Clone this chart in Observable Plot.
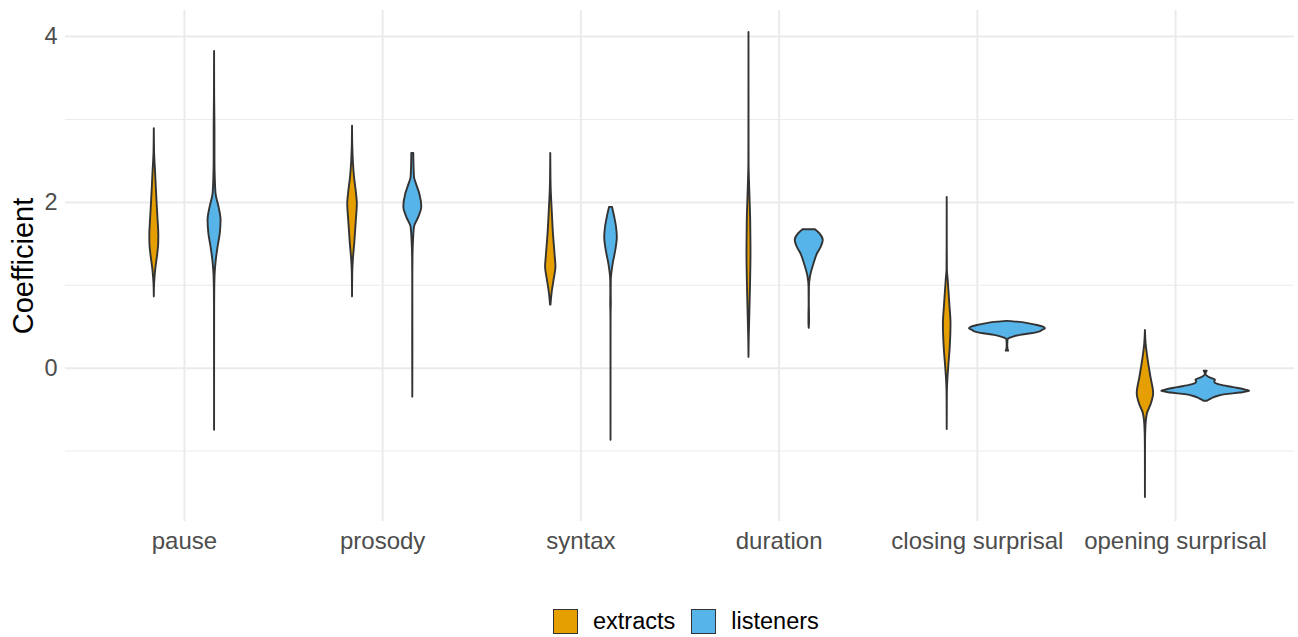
<!DOCTYPE html>
<html>
<head>
<meta charset="utf-8">
<script src="https://cdn.jsdelivr.net/npm/d3@7"></script>
<script src="https://cdn.jsdelivr.net/npm/@observablehq/plot@0.6"></script>
<style>
  body { margin: 0; background: #fff; font-family: "Liberation Sans", Arial, Helvetica, sans-serif; }
  #chart { position: relative; width: 1298px; height: 637px; }
  #chart svg { display: block; }
  #legend { position: absolute; top: 608px; left: 553px; display: flex; align-items: center; font-size: 23.5px; color: #000; }
  #legend .sw { display: inline-block; width: 23px; height: 23px; border: 1.5px solid #333; margin-right: 15px; }
  #legend .item { display: flex; align-items: center; line-height: 26px; }
  #legend .item + .item { margin-left: 16px; }
</style>
</head>
<body>
<div id="chart"></div>
<script>
const categories = ["pause", "prosody", "syntax", "duration", "closing surprisal", "opening surprisal"];
const groups = ["extracts", "listeners"];
const groupColors = ["#E69F00", "#56B4E9"];
const yMajorTicks = [0, 2, 4];
const yMinorTicks = [-1, 1, 3];

// violin profiles: [coefficient, relative density (half-width)]
const pauseExtracts = [[2.89,0],[2.6,0.3],[2.38,1.2],[2.18,2],[1.98,2.85],[1.78,3.8],[1.6,4.5],[1.5,4.4],[1.38,3.5],[1.18,1.35],[1.02,0.3],[0.86,0]];
const pauseListeners = [[3.82,0],[3.3,0.1],[2.9,0.4],[2.5,0.4],[2.3,0.7],[2.1,1.5],[1.94,4.5],[1.78,6.5],[1.62,5.7],[1.46,3.5],[1.3,1.7],[1.14,0.6],[0.95,0.2],[0.78,0.1],[0.3,0.05],[-0.75,0]];
const prosodyExtracts = [[2.92,0],[2.7,0.2],[2.5,0.8],[2.3,2],[2.1,4],[1.98,4.8],[1.78,3.8],[1.5,2.2],[1.3,0.8],[1.14,0.2],[0.86,0]];
const prosodyListeners = [[2.59,1],[2.45,1.2],[2.3,1.7],[2.22,3.7],[2.1,7],[1.94,9],[1.82,6],[1.7,1.7],[1.5,0.6],[1.34,0.2],[1.0,0.05],[0.3,0.1],[-0.35,0]];
const syntaxExtracts = [[2.59,0],[2.3,0.2],[2.14,0.5],[1.94,1.3],[1.62,2.7],[1.34,4.5],[1.22,5.2],[1.06,3.3],[0.9,1.3],[0.76,0.2]];
const syntaxListeners = [[1.94,1.5],[1.82,3.7],[1.7,5.5],[1.58,6.3],[1.42,4.8],[1.26,2.2],[1.06,0.3],[0.9,0.2],[0.78,0.3],[0.65,0.1],[0.5,0.05],[-0.87,0]];
const durationExtracts = [[4.05,0],[3.0,0.05],[2.47,0.1],[2.18,0.7],[1.78,1.7],[1.38,2.0],[0.98,1.5],[0.58,0.7],[0.33,0.2],[0.13,0]];
const durationListeners = [[1.67,6.2],[1.62,10.7],[1.54,14],[1.46,12],[1.38,8.3],[1.26,4.8],[1.10,1.2],[0.98,0.2],[0.78,0.1],[0.62,0.3],[0.55,0.3],[0.48,0]];
const closingExtracts = [[2.06,0],[1.5,0.05],[1.18,0.2],[1.06,1],[0.74,2.8],[0.54,3.8],[0.25,3],[0.01,1.5],[-0.23,0.3],[-0.39,0.1],[-0.74,0]];
const closingListeners = [[0.565,0],[0.555,10],[0.535,22],[0.515,30],[0.495,36],[0.475,38],[0.455,35],[0.435,32],[0.415,24],[0.395,13],[0.375,6],[0.355,1.5],[0.335,0.5],[0.27,0.3],[0.23,0.5],[0.205,1.2]];
const openingExtracts = [[0.455,0],[0.29,0.7],[0.09,2.8],[-0.11,5.5],[-0.31,8.2],[-0.43,6],[-0.55,2],[-0.71,0.5],[-0.91,0.1],[-1.11,0.05],[-1.56,0]];
const openingListeners = [[-0.036,1.5],[-0.06,0.5],[-0.075,0.3],[-0.1,2],[-0.12,5],[-0.145,9.8],[-0.165,9],[-0.185,10],[-0.205,15],[-0.235,28],[-0.265,40],[-0.28,44],[-0.30,35],[-0.32,20],[-0.345,11],[-0.37,6],[-0.39,3],[-0.40,1.5]];

const violins = [
  {category: "pause", group: "extracts", profile: pauseExtracts},
  {category: "pause", group: "listeners", profile: pauseListeners},
  {category: "prosody", group: "extracts", profile: prosodyExtracts},
  {category: "prosody", group: "listeners", profile: prosodyListeners},
  {category: "syntax", group: "extracts", profile: syntaxExtracts},
  {category: "syntax", group: "listeners", profile: syntaxListeners},
  {category: "duration", group: "extracts", profile: durationExtracts},
  {category: "duration", group: "listeners", profile: durationListeners},
  {category: "closing surprisal", group: "extracts", profile: closingExtracts},
  {category: "closing surprisal", group: "listeners", profile: closingListeners},
  {category: "opening surprisal", group: "extracts", profile: openingExtracts},
  {category: "opening surprisal", group: "listeners", profile: openingListeners}
];

const rows = violins.flatMap(v => v.profile.map(([y, w]) => ({category: v.category, group: v.group, y, w})));
const maxW = d3.max(rows, d => d.w);
const halfMax = 0.222;
const dodge = 0.152;
const cx = d => categories.indexOf(d.category) + (d.group === groups[0] ? -dodge : dodge);

const font = "Liberation Sans, Arial, Helvetica, sans-serif";

const plot = Plot.plot({
  width: 1298,
  height: 580,
  marginLeft: 65,
  marginRight: 4,
  marginTop: 10,
  marginBottom: 59,
  style: {fontFamily: font, background: "#fff"},
  x: {domain: [-0.6, categories.length - 0.4]},
  y: {domain: [-1.85, 4.315]},
  color: {domain: groups, range: groupColors},
  marks: [
    Plot.gridY(yMinorTicks, {stroke: "#ebebeb", strokeOpacity: 1, strokeWidth: 1.1}),
    Plot.gridY(yMajorTicks, {stroke: "#ebebeb", strokeOpacity: 1, strokeWidth: 2}),
    Plot.gridX(d3.range(categories.length), {stroke: "#ebebeb", strokeOpacity: 1, strokeWidth: 2}),
    Plot.areaX(rows, {
      y: "y",
      x1: d => cx(d) - d.w / maxW * halfMax,
      x2: d => cx(d) + d.w / maxW * halfMax,
      z: d => d.category + "|" + d.group,
      fill: "group",
      stroke: "#333333",
      strokeWidth: 1.9,
      curve: "monotone-y"
    }),
    Plot.axisY(yMajorTicks, {tickSize: 0, tickPadding: 8, fontSize: 23.5, fill: "#4d4d4d", tickFormat: d3.format("d"), label: null}),
    Plot.axisX(d3.range(categories.length), {tickSize: 0, tickPadding: 10, fontSize: 24, fill: "#4d4d4d", tickFormat: i => categories[i], label: null}),
    Plot.text(["Coefficient"], {frameAnchor: "left", textAnchor: "middle", dx: -53, rotate: -90, lineAnchor: "top", fontSize: 29, fill: "#000"})
  ]
});

const chart = document.getElementById("chart");
chart.appendChild(plot);

const legend = document.createElement("div");
legend.id = "legend";
groups.forEach((g, i) => {
  const item = document.createElement("div");
  item.className = "item";
  const sw = document.createElement("span");
  sw.className = "sw";
  sw.style.background = groupColors[i];
  const label = document.createElement("span");
  label.textContent = g;
  item.appendChild(sw);
  item.appendChild(label);
  legend.appendChild(item);
});
chart.appendChild(legend);
</script>
</body>
</html>
